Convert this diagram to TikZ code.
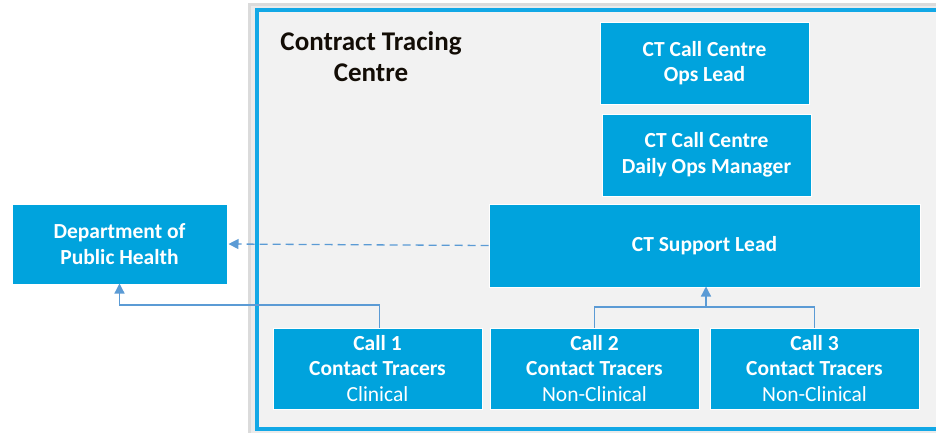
\documentclass[tikz,border=0pt]{standalone}
\usepackage{fontspec}
\setmainfont{Carlito}
\usetikzlibrary{arrows.meta,shadows}
\definecolor{boxblue}{HTML}{00A3DD}
\definecolor{framebl}{HTML}{12A8E6}
\definecolor{framebg}{HTML}{F2F2F2}
\definecolor{linkbl}{HTML}{5B9BD5}
\begin{document}
\begin{tikzpicture}[x=1pt,y=-1pt,
  orgbox/.style={draw=white,line width=1pt,fill=boxblue,text=white,
    font=\fontsize{21.5}{25.5}\selectfont\bfseries,align=center,inner sep=0pt,
    drop shadow={shadow xshift=1pt,shadow yshift=-1pt,opacity=0.25}},
  link/.style={draw=linkbl,line width=1.3pt},
  tip/.style={-{Triangle[length=10pt,width=10pt,fill=linkbl]}}]
\useasboundingbox (0,0) rectangle (936,432);
\fill[white] (0,0) rectangle (936,432);
% frame shadow
\fill[black!14] (248,3) rectangle (945,440);
\fill[black!8] (251,6) rectangle (945,440);
\draw[draw=framebl,line width=3.5pt,fill=framebg] (257,10) rectangle (945,429);
\node[font=\fontsize{27}{31}\selectfont\bfseries,align=center,text=black!90!brown] (title) at (371,57) {Contract Tracing\\Centre};
% boxes
\node[orgbox,minimum width=209pt,minimum height=82pt] (ops) at (704.5,63) {CT Call Centre\\Ops Lead};
\node[orgbox,minimum width=209pt,minimum height=82pt] (daily) at (706.5,155) {CT Call Centre\\Daily Ops Manager};
\node[orgbox,minimum width=431pt,minimum height=83pt] (sup) at (704.5,245.5) {CT Support Lead};
\node[orgbox,minimum width=215pt,minimum height=80pt] (dph) at (119.5,244) {Department of\\Public Health};
\node[orgbox,minimum width=209pt,minimum height=81pt] (c1) at (377.5,368.5) {Call 1\\Contact Tracers\\{\mdseries Clinical}};
\node[orgbox,minimum width=209pt,minimum height=81pt] (c2) at (594.5,368.5) {Call 2\\Contact Tracers\\{\mdseries Non-Clinical}};
\node[orgbox,minimum width=209pt,minimum height=81pt] (c3) at (814.5,368.5) {Call 3\\Contact Tracers\\{\mdseries Non-Clinical}};
% connectors
\draw[link,tip,dash pattern=on 8pt off 5pt] (sup.west) -- ([xshift=1pt]dph.east);
\coordinate (j1) at ([xshift=2pt]c1.north |- 0,305);
\draw[link,tip] ([xshift=2pt]c1.north) -- (j1) -- (dph.south |- j1) -- ([yshift=1pt]dph.south);
\coordinate (j2) at (c2.north |- 0,307);
\coordinate (j3) at (c3.north |- 0,307);
\draw[link] (c2.north) -- (j2) -- (j3) -- (c3.north);
\draw[link,tip] ([xshift=1.5pt]sup.south |- j2) -- ([xshift=1.5pt,yshift=1pt]sup.south);
\end{tikzpicture}
\end{document}
